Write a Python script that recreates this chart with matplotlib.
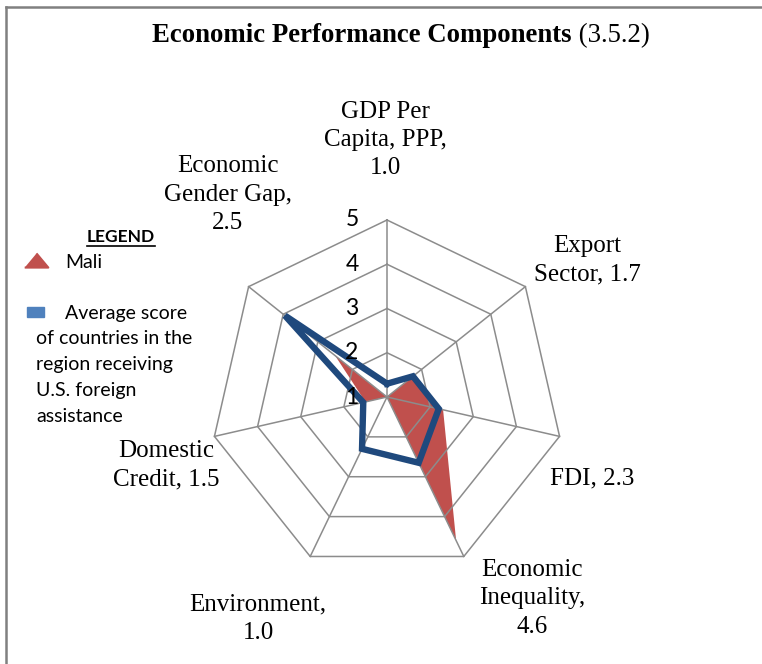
import numpy as np
import matplotlib.pyplot as plt
from matplotlib.lines import Line2D
from matplotlib.patches import Rectangle

# axis names (clockwise from the top) and the two series
categories = ['GDP Per\nCapita, PPP,\n1.0', 'Export\nSector, 1.7', 'FDI, 2.3',
              'Economic\nInequality,\n4.6', 'Environment,\n1.0',
              'Domestic\nCredit, 1.5', 'Economic\nGender Gap,\n2.5']
mali = [1.0, 1.7, 2.3, 4.6, 1.0, 1.5, 2.5]
region_avg = [1.3, 1.75, 2.2, 2.65, 2.3, 1.55, 3.95]
rings = [1, 2, 3, 4, 5]
legend_lines = ['of countries in the', 'region receiving', 'U.S. foreign', 'assistance']

W, H = 762, 664
fig = plt.figure(figsize=(W / 100, H / 100), dpi=100)

# polar axes placed so that the web center sits at (387, 397) px, radius 177 px
cx, cy, R = 387, 397, 177
ax = fig.add_axes([(cx - R) / W, (H - cy - R) / H, 2 * R / W, 2 * R / H], projection='polar')
ax.set_theta_zero_location('N')
ax.set_theta_direction(-1)
ax.set_ylim(rings[0], rings[-1])
ax.axis('off')

n = len(categories)
angles = np.linspace(0, 2 * np.pi, n, endpoint=False)
closed = np.append(angles, angles[0])

grid_col = '#8c8c8c'

# Mali filled area
ax.fill(closed, mali + mali[:1], color='#C0504D', lw=0, zorder=1)

# heptagon grid
for r in rings[1:]:
    ax.plot(closed, [r] * (n + 1), color=grid_col, lw=1.1, zorder=2, clip_on=False)
for a in angles:
    ax.plot([a, a], [rings[0], rings[-1]], color=grid_col, lw=1.1, zorder=2, clip_on=False)

# regional average line
ax.plot(closed, region_avg + region_avg[:1], color='#1F497D', lw=4.6, zorder=3,
        solid_joinstyle='miter', clip_on=False)

# ring labels
for r in rings:
    ax.annotate(str(r), xy=(0, r), xytext=(-35, 0), textcoords='offset pixels',
                ha='center', va='center', fontsize=16.5, family='Lato', zorder=5,
                annotation_clip=False)

# category labels, offset from the outer vertex
offsets = [(-2, 80), (62, 26), (33, -42), (68, -42), (-52, -62), (-48, -29), (-21, 92)]
for a, lab, off in zip(angles, categories, offsets):
    ax.annotate(lab, xy=(a, rings[-1]), xytext=off, textcoords='offset pixels',
                ha='center', va='center', fontsize=18, family='Liberation Serif',
                linespacing=1.38, annotation_clip=False)

# title: bold part + plain part
t1 = fig.text(152 / W, 1 - 36 / H, 'Economic Performance Components', ha='left', va='center',
              fontsize=19.3, fontweight='bold', family='Liberation Serif')
fig.canvas.draw()
bb = t1.get_window_extent()
fig.text(bb.x1 / W, 1 - 36 / H, ' (3.5.2)', ha='left', va='center',
         fontsize=19.3, family='Liberation Serif')

# legend block
lg = fig.text(121 / W, 1 - 237 / H, 'LEGEND', ha='center', va='center', fontsize=12.5,
              fontweight='bold', family='Lato')
fig.canvas.draw()
lb = lg.get_window_extent()
fig.add_artist(Line2D([lb.x0 / W, lb.x1 / W], [(lb.y0 - 1) / H] * 2, color='black', lw=1.2))
tri = [(-1.0, -0.6), (1.0, -0.6), (0.0, 0.6)]
fig.add_artist(Line2D([35.5 / W], [1 - 260 / H], marker=tri, markersize=17, color='#C0504D',
                      markeredgecolor='#C0504D', markeredgewidth=1.5))
fig.text(65 / W, 1 - 262 / H, 'Mali', ha='left', va='center', fontsize=14, family='Lato')
fig.add_artist(Rectangle((27 / W, 1 - 317 / H), 17 / W, 10 / H, color='#4F81BD'))
fig.text(65 / W, 1 - 313 / H, 'Average score', ha='left', va='center', fontsize=14, family='Lato')
for i, line in enumerate(legend_lines):
    fig.text(36 / W, 1 - (339 + 25.7 * i) / H, line, ha='left', va='center', fontsize=14,
             family='Lato')

# frame (left and top edges)
fig.add_artist(Line2D([5.5 / W, 5.5 / W], [0, 1 - 7 / H], color='#808080', lw=1.8))
fig.add_artist(Line2D([5.5 / W, 1], [1 - 7 / H, 1 - 7 / H], color='#808080', lw=1.8))

fig.savefig('out.png', dpi=100)
